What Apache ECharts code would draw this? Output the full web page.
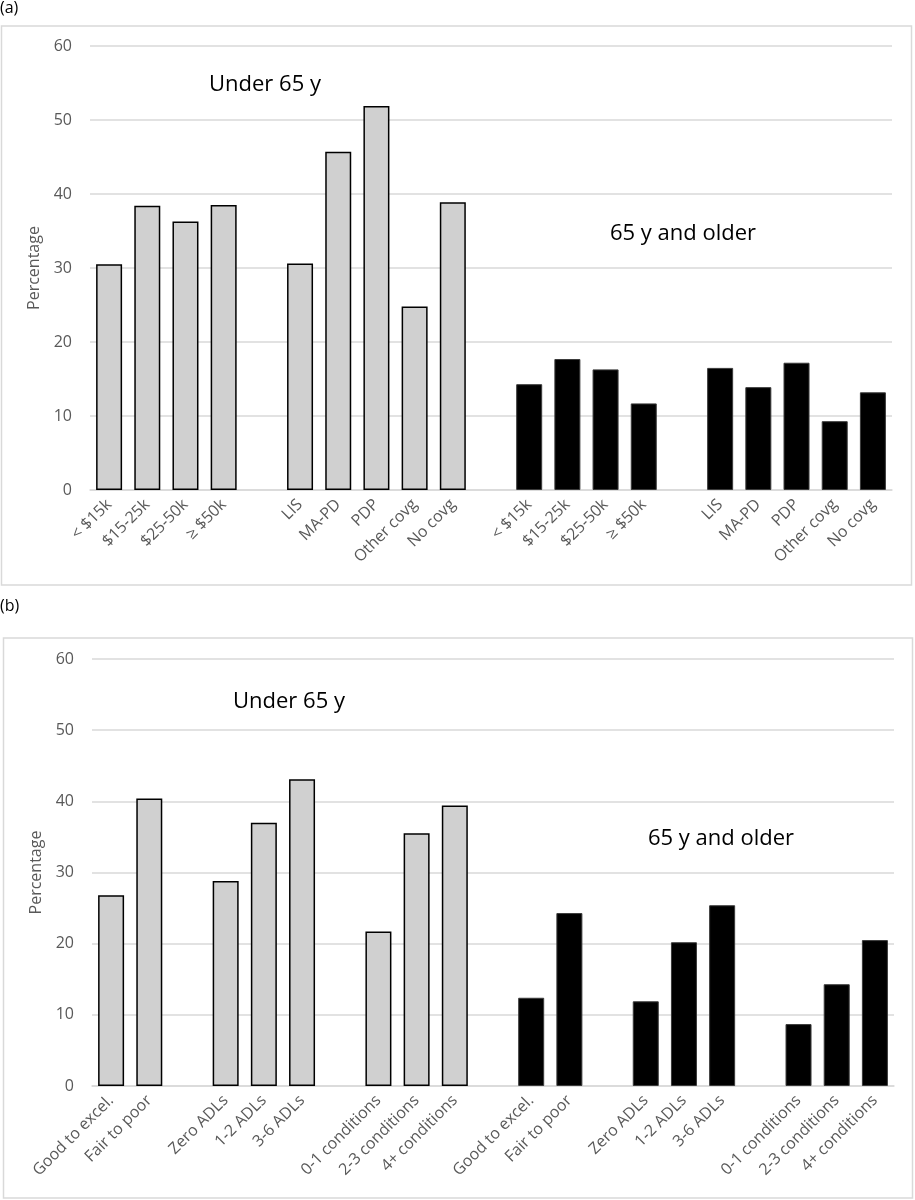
<!DOCTYPE html>
<html lang="en">
<head>
    <meta charset="UTF-8">
    <title>Percentage by group</title>
    <script type="text/javascript" src="https://cdn.jsdelivr.net/npm/echarts@6/dist/echarts.min.js"></script>
    <style>
        html, body { margin: 0; padding: 0; background: #fff; }
        #chart { width: 915px; height: 1200px; }
    </style>
</head>
<body onload="init()">
    <div id="chart"></div>
    <script>
        // (a) 收入 / 药物保险
        const incomeLabels = ['< $15k', '$15-25k', '$25-50k', '≥ $50k'];
        const covgLabels = ['LIS', 'MA-PD', 'PDP', 'Other covg', 'No covg'];
        const underIncomeA = [30.5, 38.4, 36.3, 38.5];
        const underCovgA = [30.6, 45.7, 51.9, 24.8, 38.9];
        const olderIncomeA = [14.3, 17.7, 16.3, 11.7];
        const olderCovgA = [16.5, 13.9, 17.2, 9.3, 13.2];

        // (b) 健康 / ADL / 慢病
        const healthLabels = ['Good to excel.', 'Fair to poor'];
        const adlLabels = ['Zero ADLs', '1-2 ADLs', '3-6 ADLs'];
        const condLabels = ['0-1 conditions', '2-3 conditions', '4+ conditions'];
        const underHealthB = [26.8, 40.4];
        const underAdlB = [28.8, 37.0, 43.1];
        const underCondB = [21.7, 35.5, 39.4];
        const olderHealthB = [12.4, 24.3];
        const olderAdlB = [11.9, 20.2, 25.4];
        const olderCondB = [8.7, 14.3, 20.5];

        const yTicks = [0, 10, 20, 30, 40, 50, 60];

        const font = '"Open Sans", "Noto Sans", sans-serif';
        const labelGrey = '#595959';
        const gridGrey = '#d9d9d9';

        // 把各组拼成一条类目轴，组间空一格
        function buildPanel(labelGroups, underGroups, olderGroups) {
            let cats = [], under = [], older = [];
            // 先 under 65，再 65+
            [underGroups, olderGroups].forEach((groups, part) => {
                groups.forEach((vals, g) => {
                    if (cats.length) {
                        cats.push('');
                        under.push(null);
                        older.push(null);
                    }
                    vals.forEach((v, i) => {
                        cats.push(labelGroups[g][i]);
                        under.push(part === 0 ? v : null);
                        older.push(part === 1 ? v : null);
                    });
                });
            });
            return { cats, under, older };
        }

        function xAxisCfg(gridIndex, cats) {
            return {
                type: 'category',
                gridIndex: gridIndex,
                data: cats,
                axisLine: { lineStyle: { color: gridGrey, width: 1.5 } },
                axisTick: { show: false },
                axisLabel: {
                    interval: 0,
                    rotate: 45,
                    margin: 12,
                    color: labelGrey,
                    fontSize: 16,
                    fontFamily: font
                }
            };
        }

        function yAxisCfg(gridIndex) {
            return {
                type: 'value',
                gridIndex: gridIndex,
                min: yTicks[0],
                max: yTicks[yTicks.length - 1],
                interval: yTicks[1] - yTicks[0],
                name: 'Percentage',
                nameLocation: 'middle',
                nameRotate: 90,
                nameGap: 41,
                nameTextStyle: { color: labelGrey, fontSize: 16, fontFamily: font },
                axisLine: { show: false },
                axisTick: { show: false },
                axisLabel: { color: labelGrey, fontSize: 16, fontFamily: font, margin: 18 },
                splitLine: { lineStyle: { color: gridGrey, width: 1.5 } }
            };
        }

        function barSeries(idx, data, older) {
            return {
                type: 'bar',
                xAxisIndex: idx,
                yAxisIndex: idx,
                data: data,
                barWidth: 26,
                barGap: '-100%',
                itemStyle: older
                    ? { color: '#000', borderColor: '#3a3a3a', borderWidth: 1 }
                    : { color: '#d0d0d0', borderColor: '#000', borderWidth: 1.5 }
            };
        }

        function init() {
            let a = buildPanel([incomeLabels, covgLabels], [underIncomeA, underCovgA], [olderIncomeA, olderCovgA]);
            let b = buildPanel([healthLabels, adlLabels, condLabels],
                [underHealthB, underAdlB, underCondB], [olderHealthB, olderAdlB, olderCondB]);

            let option = {
                animation: false,
                backgroundColor: '#fff',
                grid: [
                    { left: 90, right: 23, top: 46, height: 444 },
                    { left: 92, right: 21, top: 659, height: 427 }
                ],
                xAxis: [xAxisCfg(0, a.cats), xAxisCfg(1, b.cats)],
                yAxis: [yAxisCfg(0), yAxisCfg(1)],
                series: [
                    barSeries(0, a.under, false),
                    barSeries(0, a.older, true),
                    barSeries(1, b.under, false),
                    barSeries(1, b.older, true)
                ],
                graphic: [
                    // 外框
                    { type: 'rect', shape: { x: 1.5, y: 26, width: 910, height: 559 },
                      style: { fill: 'none', stroke: gridGrey, lineWidth: 1.5 }, z: -1 },
                    { type: 'rect', shape: { x: 3.5, y: 638, width: 909, height: 560 },
                      style: { fill: 'none', stroke: gridGrey, lineWidth: 1.5 }, z: -1 },
                    { type: 'text', x: 0, y: 0, style: { text: '(a)', fill: '#000', font: '16px ' + font } },
                    { type: 'text', x: 0, y: 598, style: { text: '(b)', fill: '#000', font: '16px ' + font } },
                    { type: 'text', x: 209, y: 74, style: { text: 'Under 65 y', fill: '#000', font: '22px ' + font } },
                    { type: 'text', x: 610, y: 223, style: { text: '65 y and older', fill: '#000', font: '22px ' + font } },
                    { type: 'text', x: 233, y: 691, style: { text: 'Under 65 y', fill: '#000', font: '22px ' + font } },
                    { type: 'text', x: 648, y: 828, style: { text: '65 y and older', fill: '#000', font: '22px ' + font } }
                ]
            };

            let chartView = echarts.init(document.querySelector('#chart'));
            chartView.setOption(option, true);
        }
    </script>
</body>
</html>
